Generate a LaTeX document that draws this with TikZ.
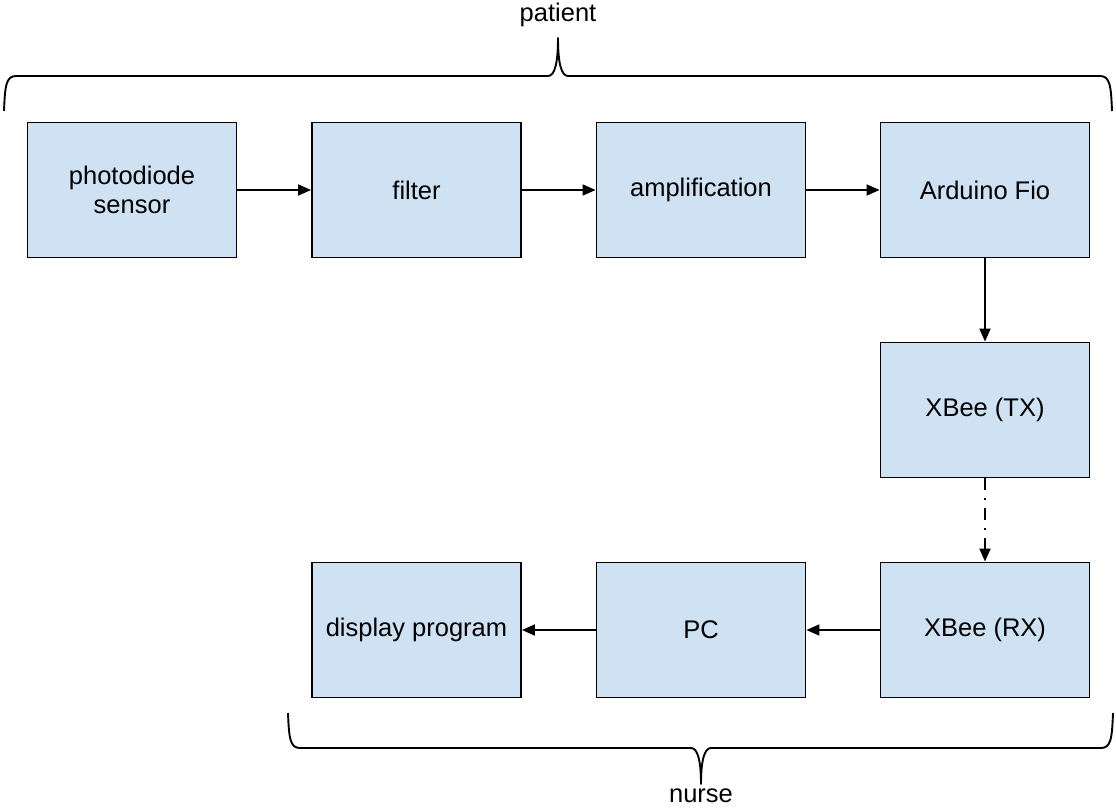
\documentclass[tikz,border=0pt]{standalone}
\usepackage{fontspec}
\setmainfont{Liberation Sans}
\usetikzlibrary{arrows.meta,positioning}
\definecolor{boxblue}{HTML}{CFE2F3}

\begin{document}
\begin{tikzpicture}[
  x=1pt, y=-1pt,
  font=\fontsize{25.5}{29}\selectfont,
  blk/.style={draw, line width=1.9pt, fill=boxblue, align=center,
              minimum width=209pt, minimum height=135pt, inner sep=2pt},
  arr/.style={line width=1.9pt, -{Triangle[length=13pt, width=11pt]}},
  brc/.style={line width=1.9pt, line join=round}
]
\useasboundingbox (0,0) rectangle (1116,809);

\node[blk] (sensor)  at (132.0, 190) {photodiode\\ sensor};
\node[blk] (filter)  at (416.5, 190) {filter};
\node[blk] (amp)     at (701.0, 190) {amplification};
\node[blk] (fio)     at (985.0, 190) {Arduino Fio};
\node[blk] (xbeetx)  at (985.0, 410) {XBee (TX)};
\node[blk] (xbeerx)  at (985.0, 630) {XBee (RX)};
\node[blk] (pc)      at (701.0, 630) {PC};
\node[blk] (display) at (416.5, 630) {display program};

\draw[arr] (sensor) -- (filter);
\draw[arr] (filter) -- (amp);
\draw[arr] (amp)    -- (fio);
\draw[arr] (fio)    -- (xbeetx);
\draw[arr, dash pattern=on 12pt off 8pt on 2pt off 8pt] (xbeetx) -- (xbeerx);
\draw[arr] (xbeerx) -- (pc);
\draw[arr] (pc)     -- (display);

% braces
\coordinate (pl) at (4, 111);
\coordinate (pt) at (558, 38);
\coordinate (pr) at (1112, 111);
\coordinate (nl) at (288, 713);
\coordinate (nt) at (701, 784);
\coordinate (nr) at (1113, 713);
\draw[brc] (pl) .. controls (5,86) and (6,76) .. (16,76) -- (548,76)
  .. controls (555,76) and (558,62) .. (pt)
  .. controls (558,62) and (561,76) .. (568,76) -- (1100,76)
  .. controls (1110,76) and (1111,86) .. (pr);
\draw[brc] (nl) .. controls (289,738) and (290,748) .. (300,748) -- (691,748)
  .. controls (698,748) and (701,762) .. (nt)
  .. controls (701,762) and (704,748) .. (711,748) -- (1101,748)
  .. controls (1111,748) and (1112,738) .. (nr);
\node (patient) at (558, 15) {patient};
\node (nurse)   at (701, 796) {nurse};
\end{tikzpicture}
\end{document}
